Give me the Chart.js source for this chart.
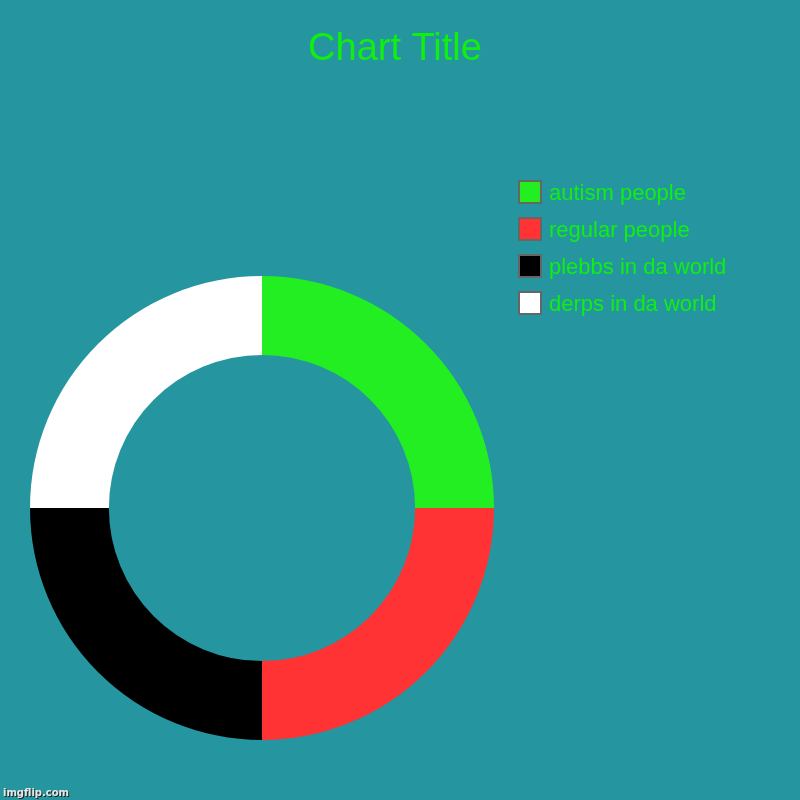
<!DOCTYPE html>
<html><head><meta charset="utf-8">
<script src="https://cdn.jsdelivr.net/npm/chart.js@4"></script>
<style>html,body{margin:0;padding:0;background:#2596a0;}canvas{display:block;}</style>
</head><body>
<canvas id="c" width="800" height="800"></canvas>
<script>
const categories = ["autism people", "regular people", "plebbs in da world", "derps in da world"];
const values = [1, 1, 1, 1];
const colors = ["#22ee22", "#ff3333", "#000000", "#ffffff"];
const titleText = "Chart Title";
const watermark = "imgflip.com";

const overlay = {
  id: 'overlay',
  beforeDraw(chart) {
    const ctx = chart.ctx;
    ctx.save();
    ctx.fillStyle = '#2596a0';
    ctx.fillRect(0, 0, chart.width, chart.height);
    ctx.restore();
  },
  afterDraw(chart) {
    const ctx = chart.ctx;
    ctx.save();
    ctx.fillStyle = '#11ee11';
    ctx.font = '38px "Liberation Sans", Arial, sans-serif';
    ctx.textAlign = 'center';
    ctx.textBaseline = 'middle';
    ctx.fillText(titleText, 395, 50);
    ctx.textAlign = 'left';
    ctx.font = '22px "Liberation Sans", Arial, sans-serif';
    categories.forEach((lab, i) => {
      const cy = 192 + i * 37;
      ctx.fillStyle = colors[i];
      ctx.fillRect(519, cy - 11, 22, 22);
      ctx.strokeStyle = '#666666';
      ctx.lineWidth = 2;
      ctx.strokeRect(519, cy - 11, 22, 22);
      ctx.fillStyle = '#11ee11';
      ctx.fillText(lab, 549, cy + 2);
    });
    ctx.font = 'bold 10px "DejaVu Sans", sans-serif';
    ctx.textBaseline = 'alphabetic';
    ctx.fillStyle = '#222';
    ctx.fillText(watermark, 4, 797);
    ctx.fillStyle = '#e8e8e8';
    ctx.fillText(watermark, 3, 796);
    ctx.restore();
  }
};

new Chart(document.getElementById('c'), {
  type: 'doughnut',
  data: {
    labels: categories,
    datasets: [{ data: values, backgroundColor: colors, borderWidth: 0, hoverOffset: 0 }]
  },
  options: {
    responsive: false,
    animation: false,
    cutout: '66%',
    layout: { padding: { left: 30, right: 306, top: 276, bottom: 60 } },
    plugins: { legend: { display: false }, title: { display: false }, tooltip: { enabled: false } }
  },
  plugins: [overlay]
});
</script>
</body></html>
